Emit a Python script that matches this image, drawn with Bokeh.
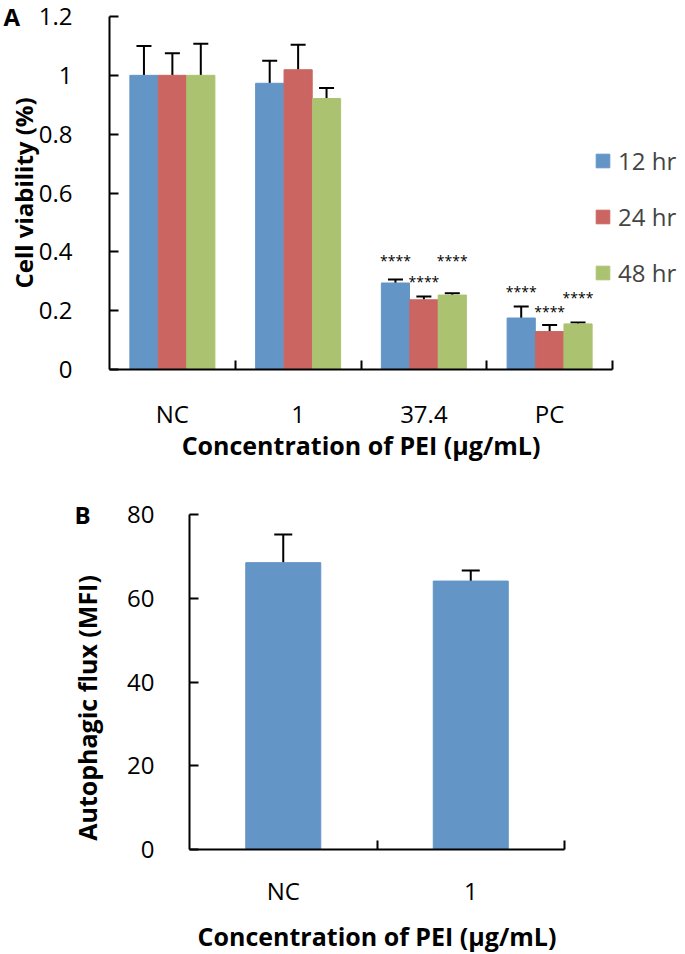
from bokeh.plotting import figure
from bokeh.models import (ColumnDataSource, Whisker, TeeHead, FixedTicker, Range1d,
                          Legend, LegendItem)
from bokeh.core.properties import value
from bokeh.embed import file_html
from bokeh.resources import INLINE

# ---------------- data: panel A ----------------
categories_a = ["NC", "1", "37.4", "PC"]
series_names = ["12 hr", "24 hr", "48 hr"]
mean_12 = [1.000, 0.973, 0.294, 0.175]
err_12 = [0.100, 0.077, 0.012, 0.039]
mean_24 = [1.000, 1.019, 0.237, 0.129]
err_24 = [0.075, 0.085, 0.011, 0.022]
mean_48 = [1.000, 0.921, 0.253, 0.155]
err_48 = [0.107, 0.036, 0.006, 0.005]
sig_text = "****"
sig_y_12 = [None, None, 0.369, 0.264]
sig_y_24 = [None, None, 0.299, 0.198]
sig_y_48 = [None, None, 0.369, 0.246]
yticks_a = [0, 0.2, 0.4, 0.6, 0.8, 1, 1.2]

# ---------------- data: panel B ----------------
categories_b = ["NC", "1"]
mean_b = [68.5, 64.1]
err_b = [6.7, 2.5]
yticks_b = [0, 20, 40, 60, 80]

colors = ["#6395C6", "#CB6561", "#ABC370"]
FONT = "Open Sans"
NBSP = "\u00a0"
FIG_W = 677


def style_axes(p):
    p.xgrid.visible = False
    p.ygrid.visible = False
    p.outline_line_color = None
    for ax in (p.xaxis[0], p.yaxis[0]):
        ax.axis_line_width = 2
        ax.axis_line_color = "black"
        ax.major_label_text_font = FONT
        ax.major_label_text_font_size = "24px"
        ax.major_label_text_color = "black"
        ax.axis_label_text_font = FONT
        ax.axis_label_text_font_size = "24px"
        ax.axis_label_text_font_style = "bold"
        ax.axis_label_text_color = "black"
    ya = p.yaxis[0]
    ya.major_tick_in = 9
    ya.major_tick_out = 0
    ya.major_tick_line_width = 2
    ya.minor_tick_line_color = None
    xa = p.xaxis[0]
    xa.major_tick_line_color = None
    xa.minor_tick_in = 9
    xa.minor_tick_out = 0
    xa.minor_tick_line_width = 2
    xa.minor_tick_line_color = "black"
    xa.axis_label_text_font_size = "25px"


def panel_letter(p, letter, offset):
    p.title.text = letter
    p.title.align = "left"
    p.title.offset = offset
    p.title.standoff = -33
    p.title.vertical_align = "bottom"
    p.title.text_font = FONT
    p.title.text_font_size = "24px"
    p.title.text_font_style = "bold"
    p.title.text_color = "black"


# ================= Panel A =================
ncat = len(categories_a)
A_LEFT = 109
A_AXIS_PX = 503                    # drawn x-axis length
A_FRAME_PX = FIG_W - A_LEFT        # full frame, leaves room for the legend
A_TOP, A_FRAME_H, A_BOTTOM = 16, 353, 100
pA = figure(frame_width=A_FRAME_PX, frame_height=A_FRAME_H,
            x_range=Range1d(0, ncat * A_FRAME_PX / A_AXIS_PX), y_range=Range1d(0, 1.2),
            output_backend="svg", toolbar_location=None,
            min_border_left=A_LEFT, min_border_top=A_TOP, min_border_right=0,
            min_border_bottom=A_BOTTOM)
style_axes(pA)
panel_letter(pA, "A", -106)

bar_w = 0.224
offsets = [-0.226, 0.0, 0.226]
means = [mean_12, mean_24, mean_48]
errs = [err_12, err_24, err_48]
sigs = [sig_y_12, sig_y_24, sig_y_48]
renderers = []
for s in range(3):
    xs = [i + 0.5 + offsets[s] for i in range(ncat)]
    src = ColumnDataSource(dict(x=xs, top=means[s],
                                upper=[m + e for m, e in zip(means[s], errs[s])]))
    pA.add_layout(Whisker(source=src, base="x", lower="top", upper="upper", dimension="height",
                          line_color="black", line_width=2,
                          upper_head=TeeHead(size=15, line_width=2, line_color="black"),
                          lower_head=None))
    r = pA.vbar(x="x", top="top", width=bar_w, source=src, fill_color=colors[s],
                line_color=colors[s], line_width=1)
    renderers.append(r)
    sx = [x for x, y in zip(xs, sigs[s]) if y is not None]
    sy = [y for y in sigs[s] if y is not None]
    pA.text(x=sx, y=sy, text=[sig_text] * len(sx), text_font=value(FONT), text_font_size="14px",
            text_align="center", text_baseline="middle", text_color="black")

pA.yaxis[0].ticker = FixedTicker(ticks=yticks_a)
pA.yaxis[0].major_label_overrides = {0: "0", 1: "1"}
pA.yaxis[0].major_label_standoff = 37
pA.yaxis[0].axis_label = "Cell viability (%)"
pA.yaxis[0].axis_label_standoff = -4

pA.xaxis[0].ticker = FixedTicker(ticks=[i + 0.5 for i in range(ncat)],
                                 minor_ticks=[i + 1 for i in range(ncat)])
pA.xaxis[0].bounds = (0, ncat)
pA.xaxis[0].major_label_overrides = {i + 0.5: c for i, c in enumerate(categories_a)}
pA.xaxis[0].major_label_standoff = 21
# trailing no-break spaces keep the title centred under the drawn axis (frame is wider)
pA.xaxis[0].axis_label = "Concentration of PEI (\u00b5g/mL)" + NBSP * 10
pA.xaxis[0].axis_label_standoff = -5

legend = Legend(items=[LegendItem(label=n, renderers=[r]) for n, r in zip(series_names, renderers)],
                location=(485, 80), border_line_color=None, background_fill_alpha=0,
                padding=0, margin=0, glyph_width=17, glyph_height=17, label_standoff=7,
                label_text_font=FONT, label_text_font_size="24px", label_height=34, spacing=22)
pA.add_layout(legend)

# ================= Panel B =================
nb = len(categories_b)
B_LEFT, B_FRAME_W = 189, 375
B_TOP = 514 - (A_TOP + A_FRAME_H + A_BOTTOM)
pB = figure(frame_width=B_FRAME_W, frame_height=335, x_range=Range1d(0, nb), y_range=Range1d(0, 80),
            output_backend="svg", toolbar_location=None,
            min_border_left=B_LEFT, min_border_top=B_TOP,
            min_border_right=FIG_W - B_LEFT - B_FRAME_W, min_border_bottom=4)
style_axes(pB)
panel_letter(pB, "B", -115)
xb = [i + 0.5 for i in range(nb)]
srcb = ColumnDataSource(dict(x=xb, top=mean_b, upper=[m + e for m, e in zip(mean_b, err_b)]))
pB.add_layout(Whisker(source=srcb, base="x", lower="top", upper="upper", dimension="height",
                      line_color="black", line_width=2,
                      upper_head=TeeHead(size=18, line_width=2, line_color="black"),
                      lower_head=None))
pB.vbar(x="x", top="top", width=0.4, source=srcb, fill_color=colors[0], line_color=colors[0])

pB.yaxis[0].ticker = FixedTicker(ticks=yticks_b)
pB.yaxis[0].major_label_standoff = 35
pB.yaxis[0].axis_label = "Autophagic flux (MFI)" + NBSP * 8
pB.yaxis[0].axis_label_text_font_size = "25px"
pB.yaxis[0].axis_label_standoff = 20
pB.xaxis[0].ticker = FixedTicker(ticks=xb, minor_ticks=[i + 1 for i in range(nb)])
pB.xaxis[0].major_label_overrides = {x: c for x, c in zip(xb, categories_b)}
pB.xaxis[0].major_label_standoff = 18
pB.xaxis[0].axis_label = "Concentration of PEI (\u00b5g/mL)"
pB.xaxis[0].axis_label_standoff = 9

open("out.html", "w").write(file_html([pA, pB], INLINE))
